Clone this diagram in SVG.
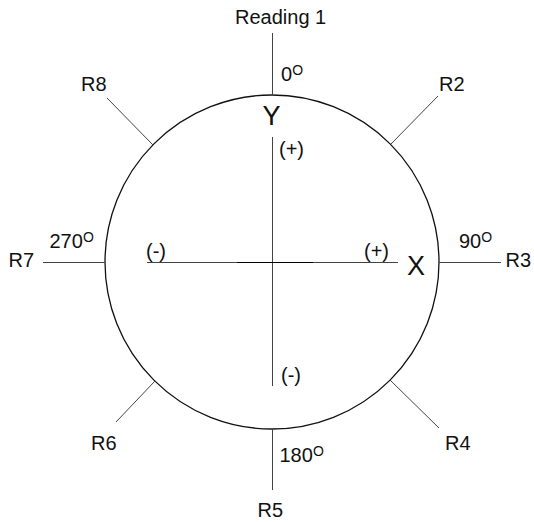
<svg xmlns="http://www.w3.org/2000/svg" width="534" height="522" viewBox="0 0 534 522">
  <style>
    .ln { stroke: #444; stroke-width: 1; fill: none; }
    .ring { stroke: #111; stroke-width: 1.3; fill: none; }
    .t { font-family: "Liberation Sans", Arial, sans-serif; font-size: 20px; fill: #111; }
    .ax { font-family: "Liberation Sans", Arial, sans-serif; font-size: 27px; fill: #111; }
    .sup { font-size: 14px; }
  </style>
  <rect width="534" height="522" fill="#fff"/>

  <g id="dial">
    <circle class="ring" cx="272" cy="262" r="167"/>
  </g>

  <g id="connectors">
    <!-- reading spokes -->
    <line class="ln" x1="272.5" y1="33" x2="272.5" y2="95"/>
    <line class="ln" x1="391" y1="144" x2="438" y2="96"/>
    <line class="ln" x1="439" y1="262.5" x2="501" y2="262.5"/>
    <line class="ln" x1="390" y1="380" x2="439" y2="428"/>
    <line class="ln" x1="272.5" y1="429" x2="272.5" y2="490"/>
    <line class="ln" x1="155" y1="381" x2="116" y2="422"/>
    <line class="ln" x1="43" y1="262.5" x2="105" y2="262.5"/>
    <line class="ln" x1="153" y1="145" x2="107" y2="98"/>
    <!-- inner axes -->
    <line class="ln" x1="147" y1="262.5" x2="398" y2="262.5"/>
    <line class="ln" x1="272.5" y1="137" x2="272.5" y2="386"/>
    <line x1="237" y1="262.5" x2="313" y2="262.5" stroke="#000" stroke-width="1.2"/>
  </g>

  <g id="reading1">
    <text class="t" x="235" y="24">Reading 1</text>
    <text class="t" x="281" y="81">0<tspan class="sup" dy="-6.5">O</tspan></text>
  </g>
  <g id="r2"><text class="t" x="439" y="91">R2</text></g>
  <g id="r3">
    <text class="t" x="505.5" y="267">R3</text>
    <text class="t" x="459" y="248">90<tspan class="sup" dy="-6.5">O</tspan></text>
  </g>
  <g id="r4"><text class="t" x="445" y="449.5">R4</text></g>
  <g id="r5">
    <text class="t" x="257.5" y="517">R5</text>
    <text class="t" x="279.5" y="462">180<tspan class="sup" dy="-6.5">O</tspan></text>
  </g>
  <g id="r6"><text class="t" x="91" y="450">R6</text></g>
  <g id="r7">
    <text class="t" x="8.5" y="267">R7</text>
    <text class="t" x="49.5" y="248">270<tspan class="sup" dy="-6.5">O</tspan></text>
  </g>
  <g id="r8"><text class="t" x="81" y="91">R8</text></g>

  <g id="axis-y">
    <text class="ax" x="262.5" y="124.5">Y</text>
    <text class="t" x="279" y="156">(+)</text>
    <text class="t" x="281" y="382">(-)</text>
  </g>
  <g id="axis-x">
    <text class="ax" x="407" y="275">X</text>
    <text class="t" x="364" y="257.5">(+)</text>
    <text class="t" x="146" y="257.5">(-)</text>
  </g>
</svg>
